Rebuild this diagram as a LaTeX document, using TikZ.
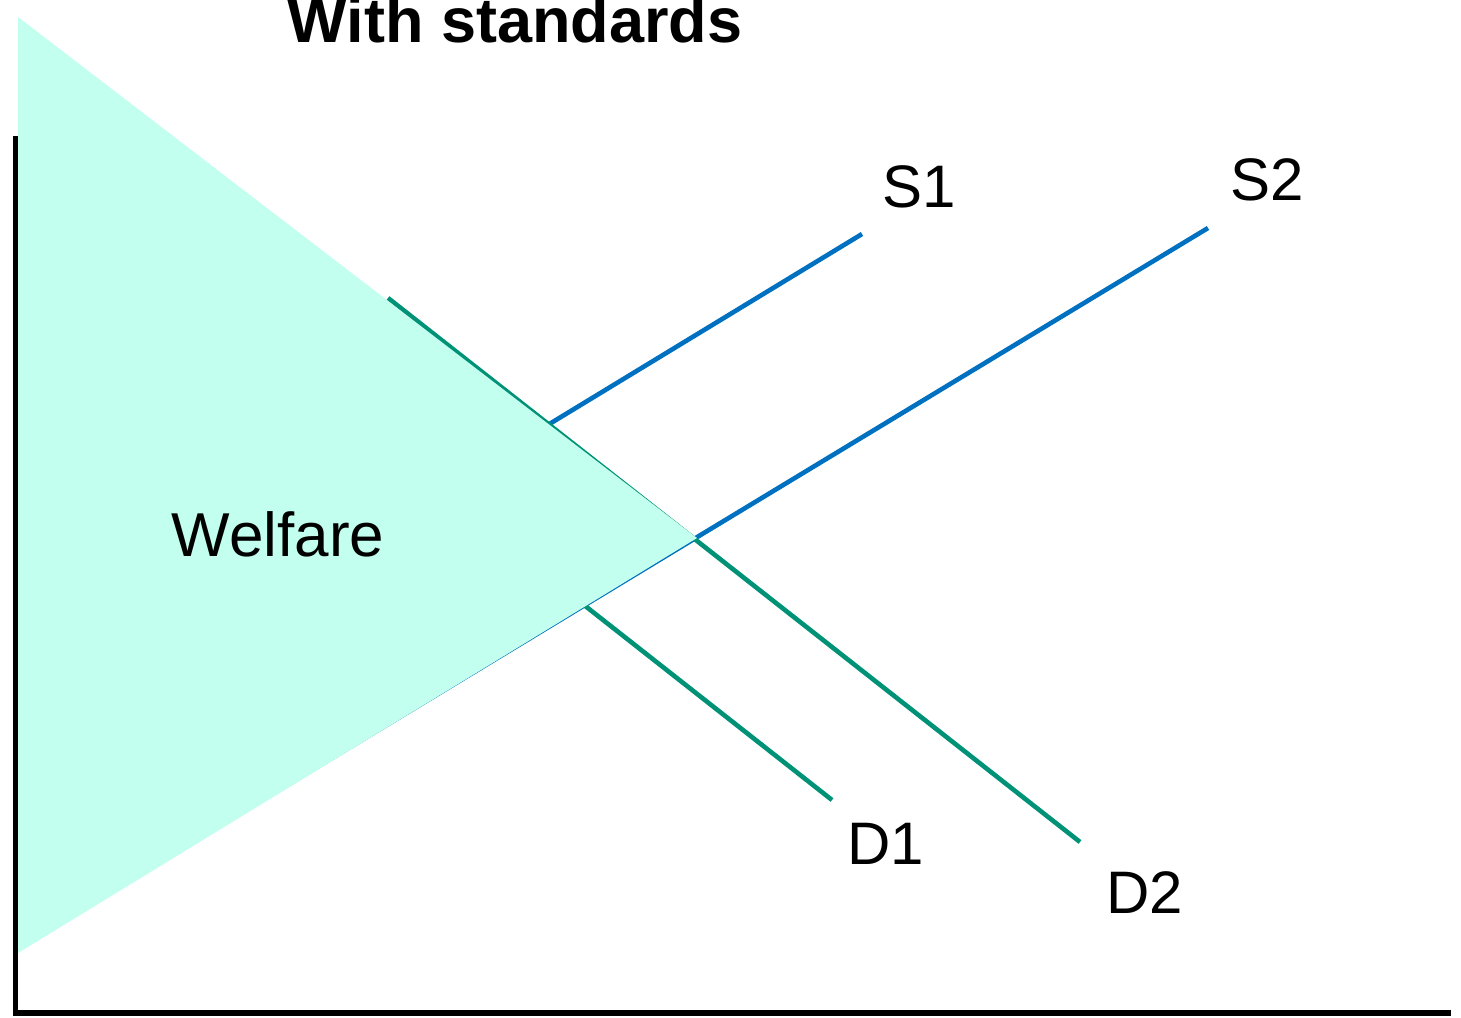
\documentclass[tikz,border=0pt]{standalone}
\usepackage{fontspec}
\setmainfont{Liberation Sans}
\usetikzlibrary{positioning}
\definecolor{supplyblue}{RGB}{0,112,192}
\definecolor{demandgreen}{RGB}{0,146,118}
\definecolor{welfarefill}{RGB}{194,255,238}
\tikzset{
  supply/.style={draw=supplyblue, line width=2.3pt}, % supply curves
  demand/.style={draw=demandgreen, line width=2.3pt}, % demand curves
  axis/.style={draw=black, line width=2.8pt}, % the two axes
  curvelabel/.style={font=\fontsize{30}{36}\selectfont, inner sep=0pt}, % S1, S2, D1, D2
}

\begin{document}
\begin{tikzpicture}[x=0.5pt, y=-0.5pt]
      \useasboundingbox (0,0) rectangle (1461,1017);
      % end points of the curves
      \coordinate (s1a) at (18,747);
      \coordinate (s1b) at (862,234);
      \coordinate (s2a) at (18,948);
      \coordinate (s2b) at (1208,228);
      \coordinate (d1a) at (18,160);
      \coordinate (d1b) at (832,800);
      \coordinate (d2a) at (388,298);
      \coordinate (d2b) at (1080,842);
      \coordinate (top) at (18,17);
      \coordinate (eq) at (697,538);
      \coordinate (bottom) at (18,953);
      \coordinate (origin) at (15.5,1013);
      \coordinate (ytop) at (15.5,136);
      \coordinate (xend) at (1451,1013);

      \draw[supply] (s1a) -- (s1b);
      \draw[supply] (s2a) -- (s2b);
      \draw[demand] (d1a) -- (d1b);
      \draw[demand] (d2a) -- (d2b);

      \fill[welfarefill] (top) -- (eq) -- (bottom) -- cycle;

      \draw[axis] (ytop) -- (origin) -- (xend);

      \node[curvelabel] (S1) at (919,187) {S1};
      \node[curvelabel] (S2) at (1267,180) {S2};
      \node[curvelabel] (D1) at (886,844) {D1};
      \node[curvelabel] (D2) at (1145,893) {D2};
      \node[curvelabel, font=\fontsize{31}{37}\selectfont] (welfare) at (278,534) {Welfare};
      \node[anchor=base, inner sep=0pt, font=\fontsize{31.5}{38}\selectfont\bfseries] (title) at (515,42) {With standards};
    \end{tikzpicture}
\end{document}
